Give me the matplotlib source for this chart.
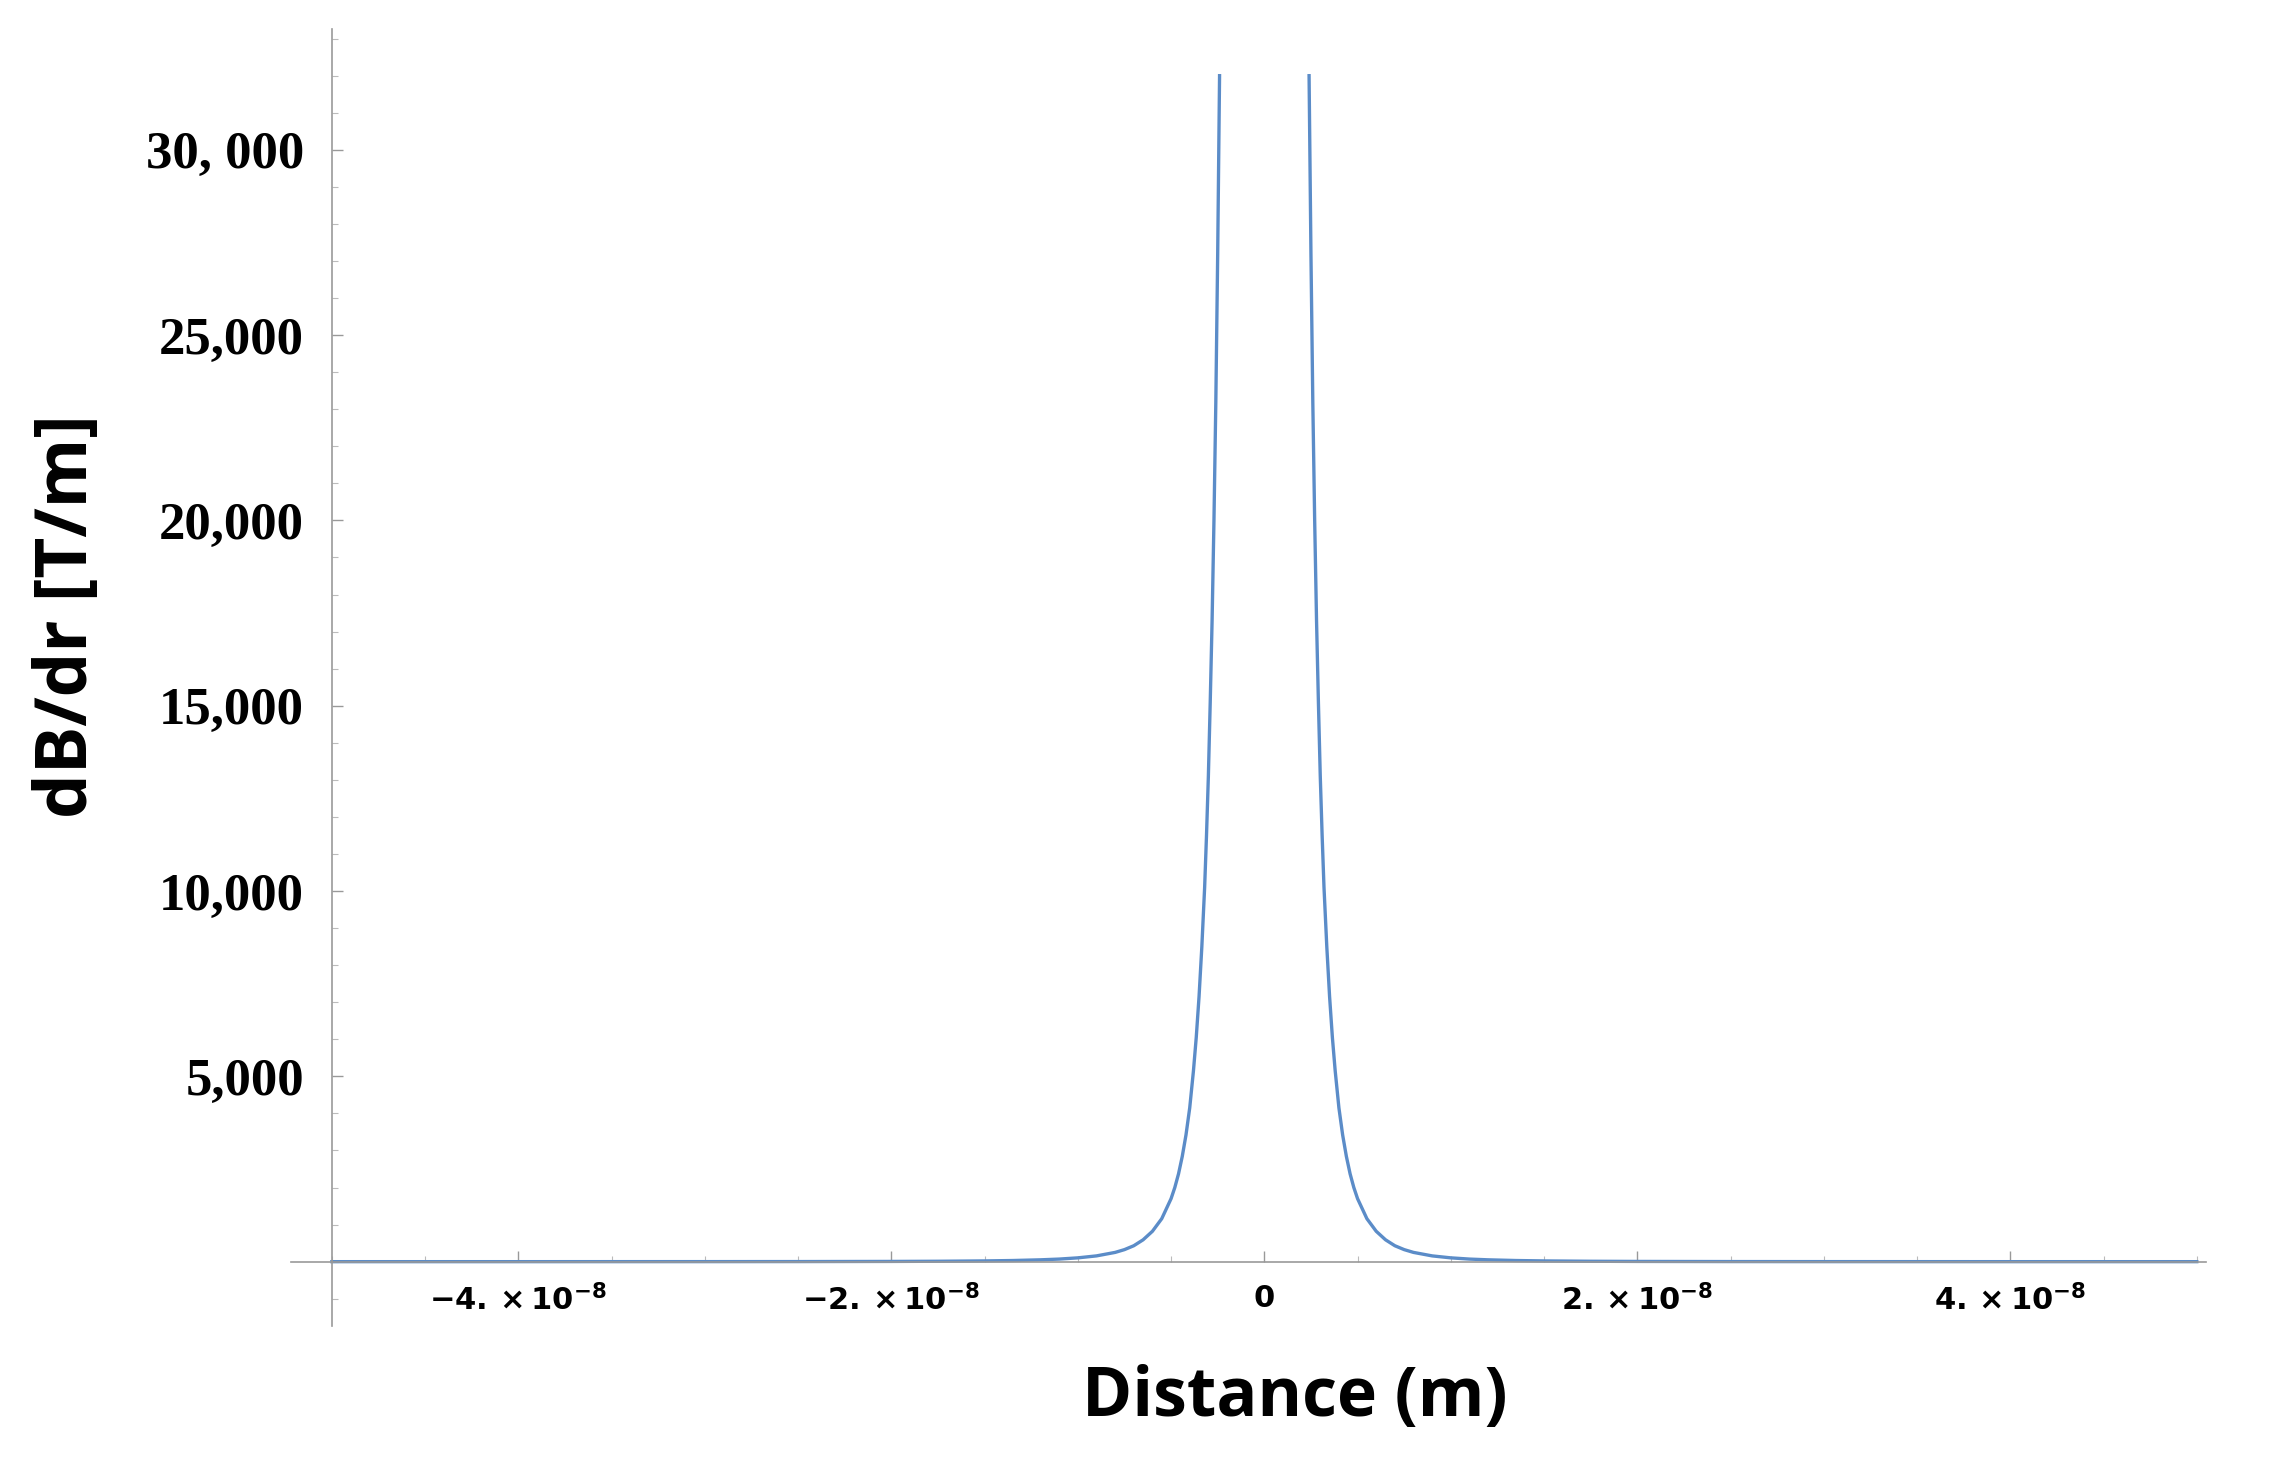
import matplotlib
matplotlib.use("Agg")
import matplotlib.pyplot as plt
from matplotlib.ticker import MultipleLocator, FixedLocator
import numpy as np

# distance from centre (units of 1e-8 m) and gradient values (T/m)
r_vals = [0.24, 0.25, 0.26, 0.27, 0.28, 0.29, 0.30, 0.31, 0.32, 0.335, 0.35, 0.365, 0.38,
          0.40, 0.42, 0.44, 0.46, 0.48, 0.50, 0.55, 0.60, 0.65, 0.70, 0.75,
          0.80, 0.90, 1.00, 1.10, 1.20, 1.35, 1.50, 1.75, 2.00, 2.50, 3.00, 4.00, 5.00]
g_vals = [32000, 27200, 23200, 20000, 17300, 15100, 13100, 11500, 10100, 8500, 7150, 6050, 5150,
          4150, 3420, 2840, 2370, 2000, 1700, 1160, 820, 590, 430, 325,
          250, 156, 103, 70, 50, 31, 20.5, 11, 6.5, 2.7, 1.3, 0.4, 0.17]
y_ticks = [5000, 10000, 15000, 20000, 25000, 30000]
y_ticklabels = ["5,000", "10,000", "15,000", "20,000", "25,000", "30, 000"]
x_ticks = [-4e-8, -2e-8, 0, 2e-8, 4e-8]
x_ticklabels = [r"$\mathbf{-4.\times10^{-8}}$", r"$\mathbf{-2.\times10^{-8}}$", r"$\mathbf{0}$",
                r"$\mathbf{2.\times10^{-8}}$", r"$\mathbf{4.\times10^{-8}}$"]

r = np.array(r_vals) * 1e-8
g = np.array(g_vals)

fig = plt.figure(figsize=(22.72, 14.68), dpi=100)
ax = fig.add_axes([0.128, 0.097, 0.843, 0.883])
col = "#5B8CC8"
ax.plot(-r[::-1], g[::-1], color=col, lw=2.4)
ax.plot(r, g, color=col, lw=2.4)

ax.set_xlim(-5.22e-8, 5.05e-8)
ax.set_ylim(-1725, 33250)
for s in ["top", "right"]:
    ax.spines[s].set_visible(False)
ax.spines["left"].set_position(("data", -5e-8))
ax.spines["bottom"].set_position(("data", 0))
for s in ["left", "bottom"]:
    ax.spines[s].set_color("#999999")
    ax.spines[s].set_linewidth(1.2)

ax.yaxis.set_major_locator(FixedLocator(y_ticks))
ax.set_yticklabels(y_ticklabels, fontfamily="Liberation Serif", fontweight="bold", fontsize=38)
ax.yaxis.set_minor_locator(MultipleLocator(1000))
ax.xaxis.set_major_locator(FixedLocator(x_ticks))
ax.set_xticklabels(x_ticklabels, fontsize=22)
ax.xaxis.set_minor_locator(MultipleLocator(0.5e-8))
ax.tick_params(axis="both", which="major", direction="in", length=8, color="#999999", width=1)
ax.tick_params(axis="both", which="minor", direction="in", length=4, color="#bbbbbb", width=0.8)
ax.tick_params(axis="y", pad=20)
ax.tick_params(axis="x", pad=16)

fig.text(0.030, 0.58, "dB/dr [T/m]", rotation=90, ha="center", va="center",
         fontfamily="Open Sans", fontweight="bold", fontsize=51)
fig.text(0.57, 0.048, "Distance (m)", ha="center", va="center",
         fontfamily="Open Sans", fontweight="bold", fontsize=49)

fig.savefig("out.png", dpi=100)
